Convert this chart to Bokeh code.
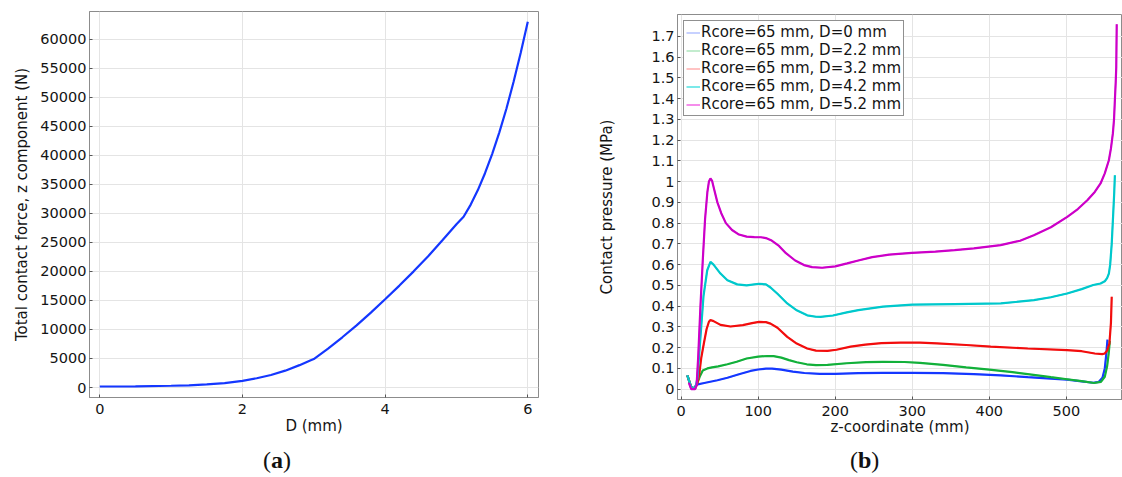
from bokeh.plotting import figure
from bokeh.models import FixedTicker, Legend, LegendItem, Div, Range1d
from bokeh.layouts import row, column
from bokeh.embed import file_html
from bokeh.resources import INLINE

FONT = "DejaVu Sans"

# ---------------- data: (a) total contact force vs displacement ----------------
d_mm = [0.0, 0.5, 1.0, 1.25, 1.5, 1.75, 2.0, 2.2, 2.4, 2.6, 2.8, 2.95, 3.0, 3.2, 3.4, 3.6, 3.8,
        4.0, 4.2, 4.4, 4.6, 4.8, 5.0, 5.1, 5.2, 5.3, 5.4, 5.5, 5.6, 5.7, 5.8, 5.9, 6.0]
force_n = [170, 200, 300, 380, 530, 760, 1150, 1600, 2150, 2900, 3850, 4650, 4900, 6700, 8650,
           10700, 12900, 15200, 17550, 20000, 22550, 25300, 28100, 29400, 31500, 34000, 36900,
           40200, 43900, 48000, 52600, 57600, 63000]
a_xticks = [0, 2, 4, 6]
a_yticks = [0, 5000, 10000, 15000, 20000, 25000, 30000, 35000, 40000, 45000, 50000, 55000, 60000]

# ---------------- data: (b) contact pressure along z ----------------
series_labels = ["Rcore=65 mm, D=0 mm", "Rcore=65 mm, D=2.2 mm", "Rcore=65 mm, D=3.2 mm",
                 "Rcore=65 mm, D=4.2 mm", "Rcore=65 mm, D=5.2 mm"]

z_d0 = [8, 13, 16, 20, 30, 47, 60, 75, 90, 100, 110, 118, 130, 145, 160, 180, 200, 230, 262, 300,
        340, 380, 415, 450, 480, 501, 520, 535, 542, 547, 550, 552, 553.5]
p_d0 = [0.067, 0.005, 0.004, 0.022, 0.03, 0.043, 0.055, 0.072, 0.088, 0.095, 0.099, 0.099, 0.094,
        0.085, 0.078, 0.074, 0.074, 0.077, 0.079, 0.079, 0.077, 0.073, 0.067, 0.058, 0.051, 0.046,
        0.038, 0.031, 0.035, 0.055, 0.1, 0.17, 0.239]

z_d22 = [8, 13, 17, 20, 24, 28, 34, 40, 48, 60, 72, 85, 100, 112, 120, 130, 140, 150, 163, 175,
         190, 215, 240, 262, 290, 310, 340, 370, 400, 430, 460, 480, 501, 520, 536, 545, 550, 553,
         555, 556.6]
p_d22 = [0.067, 0.01, 0.003, 0.02, 0.06, 0.09, 0.1, 0.105, 0.11, 0.12, 0.132, 0.148, 0.157, 0.16,
         0.159, 0.152, 0.14, 0.13, 0.12, 0.116, 0.117, 0.125, 0.13, 0.132, 0.131, 0.127, 0.117,
         0.105, 0.094, 0.082, 0.068, 0.058, 0.048, 0.039, 0.030, 0.035, 0.06, 0.11, 0.17, 0.233]

z_d32 = [8, 13, 18, 21, 23, 26, 29.4, 33, 36, 38, 42, 51, 64, 80, 92, 101, 110, 116, 125, 137.7,
         150, 163.6, 175, 190, 201.5, 220, 239, 260, 285, 310, 332, 370, 402, 450, 501, 520, 537,
         546.7, 550, 553, 556, 558, 559]
p_d32 = [0.067, 0.01, 0.002, 0.03, 0.06, 0.15, 0.22, 0.29, 0.325, 0.333, 0.328, 0.31, 0.302, 0.309,
         0.318, 0.324, 0.323, 0.316, 0.296, 0.252, 0.22, 0.196, 0.186, 0.185, 0.19, 0.205, 0.215,
         0.222, 0.224, 0.224, 0.221, 0.213, 0.205, 0.196, 0.188, 0.183, 0.172, 0.169, 0.172, 0.186,
         0.22, 0.32, 0.445]

z_d42 = [8, 13, 18, 21, 25, 29, 33.8, 38, 42, 51, 60, 72.7, 85, 100.8, 110, 116, 125, 137.7, 150,
         163.6, 175, 181, 197, 215, 230, 262, 300, 355, 415, 458, 480, 501, 520, 535, 544.5, 550,
         553, 555.3, 557, 559, 561, 562.3, 563.1]
p_d42 = [0.067, 0.01, 0.002, 0.05, 0.25, 0.45, 0.573, 0.613, 0.6, 0.557, 0.525, 0.505, 0.5, 0.508,
         0.505, 0.49, 0.46, 0.413, 0.38, 0.356, 0.349, 0.348, 0.355, 0.37, 0.381, 0.398, 0.407, 0.41,
         0.413, 0.429, 0.443, 0.461, 0.482, 0.502, 0.509, 0.52, 0.535, 0.557, 0.6, 0.7, 0.85, 0.95,
         1.031]

z_d52 = [10, 13, 18, 20, 22, 25, 28, 31, 34, 36, 38, 40, 43, 47, 52, 58, 66, 75, 85, 95, 103.5,
         110, 117.5, 127, 136, 148, 159.5, 170, 183, 200, 215.5, 230, 248, 270, 299.5, 330, 355, 380,
         414.7, 440, 457.9, 480, 501.3, 515, 527.3, 537, 544.5, 550, 555.3, 558, 560.5, 562, 563.1,
         564.2, 564.9, 565.5]
p_d52 = [0.03, 0.0, 0.0, 0.02, 0.15, 0.4, 0.62, 0.82, 0.95, 1.0, 1.015, 1.005, 0.96, 0.9, 0.848,
         0.8, 0.767, 0.745, 0.735, 0.733, 0.732, 0.728, 0.716, 0.69, 0.655, 0.62, 0.598, 0.588,
         0.585, 0.592, 0.606, 0.62, 0.636, 0.648, 0.657, 0.663, 0.67, 0.678, 0.694, 0.715, 0.742,
         0.78, 0.83, 0.868, 0.91, 0.95, 0.991, 1.04, 1.103, 1.16, 1.232, 1.3, 1.392, 1.48, 1.552,
         1.758]

b_xticks = [0, 100, 200, 300, 400, 500]
b_yticks = [0, 0.1, 0.2, 0.3, 0.4, 0.5, 0.6, 0.7, 0.8, 0.9, 1, 1.1, 1.2, 1.3, 1.4, 1.5, 1.6, 1.7]
b_ytick_labels = ["0", "0.1", "0.2", "0.3", "0.4", "0.5", "0.6", "0.7", "0.8", "0.9", "1", "1.1",
                  "1.2", "1.3", "1.4", "1.5", "1.6", "1.7"]

line_colors = ["#1437ff", "#12b03a", "#f20d0d", "#00c8cc", "#cc00c8"]
legend_colors = ["#a9b9ff", "#a3e2b4", "#ffa3a3", "#33dede", "#f050e0"]


def style(p):
    p.outline_line_color = "#8c8c8c"
    p.outline_line_width = 1
    p.background_fill_color = "white"
    p.border_fill_color = "white"
    for ax in (p.xaxis[0], p.yaxis[0]):
        ax.axis_line_color = "#8c8c8c"
        ax.major_tick_in = 3
        ax.major_tick_out = 0
        ax.minor_tick_in = 0
        ax.minor_tick_out = 0
        ax.major_tick_line_color = "#555555"
        ax.major_label_text_font = FONT
        ax.major_label_text_font_size = "14.5px"
        ax.major_label_text_color = "#141414"
        ax.axis_label_text_font = FONT
        ax.axis_label_text_font_size = "15px"
        ax.axis_label_text_font_style = "normal"
        ax.axis_label_text_color = "#141414"
    p.xgrid.grid_line_color = "#e4e4e4"
    p.ygrid.grid_line_color = "#e4e4e4"


# ---------------- (a) ----------------
p1 = figure(frame_width=449, frame_height=386,
            x_range=Range1d(-0.144, 6.15), y_range=Range1d(-1722, 64750),
            output_backend="svg", toolbar_location=None,
            min_border_left=89, min_border_right=52, min_border_top=11, min_border_bottom=42)
style(p1)
p1.xaxis.ticker = FixedTicker(ticks=a_xticks)
p1.yaxis.ticker = FixedTicker(ticks=a_yticks)
p1.xaxis.axis_label = "D (mm)"
p1.yaxis.axis_label = "Total contact force, z component (N)"
p1.xaxis.major_label_standoff = 6
p1.xaxis.axis_label_standoff = 0
p1.yaxis.major_label_standoff = 3
p1.yaxis.axis_label_standoff = 6
p1.line(d_mm, force_n, line_color="#1437ff", line_width=2.2)

# ---------------- (b) ----------------
p2 = figure(frame_width=445, frame_height=385,
            x_range=Range1d(-4.8, 573), y_range=Range1d(-0.0496, 1.805),
            output_backend="svg", toolbar_location=None,
            min_border_left=87, min_border_right=0, min_border_top=14, min_border_bottom=40)
style(p2)
p2.xaxis.ticker = FixedTicker(ticks=b_xticks)
p2.yaxis.ticker = FixedTicker(ticks=b_yticks)
p2.yaxis.major_label_overrides = dict(zip(b_yticks, b_ytick_labels))
p2.xaxis.axis_label = "z-coordinate (mm)"
p2.yaxis.axis_label = "Contact pressure (MPa)"
p2.xaxis.major_label_standoff = 6
p2.xaxis.axis_label_standoff = -1
p2.yaxis.major_label_standoff = 3
p2.yaxis.axis_label_standoff = 32

zs = [z_d0, z_d22, z_d32, z_d42, z_d52]
ps = [p_d0, p_d22, p_d32, p_d42, p_d52]
items = []
for z, pr, col, lcol, lab in zip(zs, ps, line_colors, legend_colors, series_labels):
    # thin pale twin (hidden below the main curve) supplies the legend swatch
    swatch = p2.line(z, pr, line_color=lcol, line_width=1.3)
    p2.line(z, pr, line_color=col, line_width=2.2)
    items.append(LegendItem(label=lab, renderers=[swatch]))

legend = Legend(items=items, location="top_left", margin=6, padding=2, spacing=0,
                label_standoff=1, glyph_width=14, glyph_height=15, label_height=15,
                label_text_font=FONT, label_text_font_size="15px", label_text_color="#141414",
                label_text_line_height=1.12,
                border_line_color="#222222", border_line_width=1, background_fill_alpha=1)
p2.add_layout(legend)

cap_style = ("font-family: 'Liberation Serif'; font-size: 24px; color: #111; "
             "padding-top: 13px; line-height: 16px; padding-left: %dpx;")
div_a = Div(text='<div style="%s">(<b>a</b>)</div>' % (cap_style % 263),
            width=590, height=38, margin=(0, 0, 0, 0))
div_b = Div(text='<div style="%s">(<b>b</b>)</div>' % (cap_style % 260),
            width=532, height=38, margin=(0, 0, 0, 0))

layout = row(column(p1, div_a), column(p2, div_b))
open("out.html", "w").write(file_html(layout, INLINE))
